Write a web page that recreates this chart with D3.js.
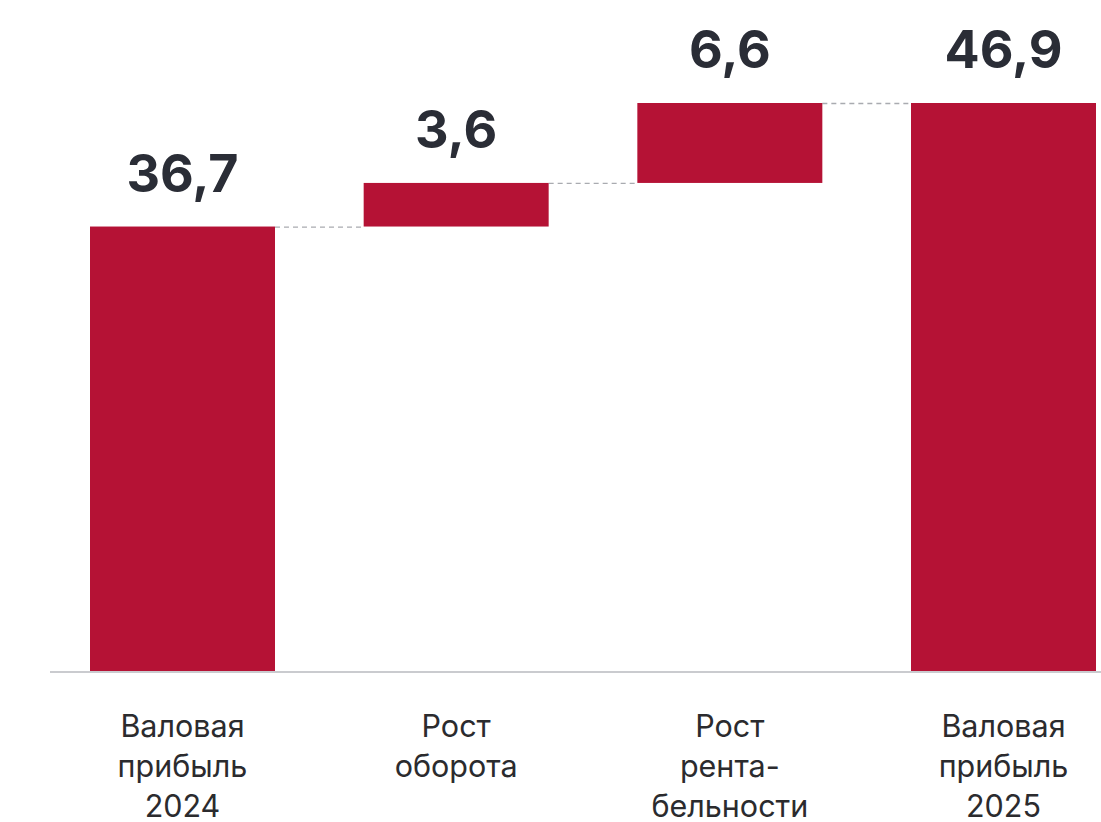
<!DOCTYPE html>
<html>
<head>
<meta charset="utf-8">
<script src="https://cdn.jsdelivr.net/npm/d3@7"></script>
<style>
  html, body { margin: 0; padding: 0; background: #fff; }
  svg { display: block; }
</style>
</head>
<body>
<svg id="chart" width="1101" height="822"></svg>
<script>
const categories = [
  ["Валовая", "прибыль", "2024"],
  ["Рост", "оборота"],
  ["Рост", "рента-", "бельности"],
  ["Валовая", "прибыль", "2025"]
];
const values = [36.7, 3.6, 6.6, 46.9];
const kinds = ["total", "delta", "delta", "total"];
const valueLabels = ["36,7", "3,6", "6,6", "46,9"];

let run = 0;
const bars = values.map((v, i) => {
  let y0, y1;
  if (kinds[i] === "total") { y0 = 0; y1 = v; run = v; }
  else { y0 = run; y1 = run + v; run = y1; }
  return { i, y0, y1, label: valueLabels[i], cat: categories[i] };
});

const svg = d3.select("#chart");
const x = d3.scaleBand().domain(d3.range(values.length)).range([90, 1096]).paddingInner(0.324).paddingOuter(0);
const y = d3.scaleLinear().domain([0, 46.9]).range([671, 103]);

const red = "#b51235";

for (let k = 0; k < bars.length - 1; k++) {
  const level = bars[k].y1;
  svg.append("line")
    .attr("x1", x(k) + x.bandwidth()).attr("x2", x(k + 1))
    .attr("y1", y(level) + 0.5).attr("y2", y(level) + 0.5)
    .attr("stroke", "#a9abb0").attr("stroke-width", 1.3)
    .attr("stroke-dasharray", "5,4");
}

svg.selectAll("rect.bar").data(bars).join("rect")
  .attr("class", "bar")
  .attr("x", d => x(d.i))
  .attr("width", x.bandwidth())
  .attr("y", d => y(d.y1))
  .attr("height", d => y(d.y0) - y(d.y1))
  .attr("fill", red);

svg.append("line")
  .attr("x1", 50).attr("x2", 1101)
  .attr("y1", y(0) + 1).attr("y2", y(0) + 1)
  .attr("stroke", "#b9babf").attr("stroke-width", 1.6);

svg.selectAll("text.val").data(bars).join("text")
  .attr("class", "val")
  .attr("x", d => x(d.i) + x.bandwidth() / 2)
  .attr("y", d => y(d.y1) - 35)
  .attr("text-anchor", "middle")
  .attr("font-family", "Inter, Roboto, sans-serif")
  .attr("font-weight", 700)
  .attr("font-size", 52)
  .attr("letter-spacing", 0)
  .attr("fill", "#2a2d36")
  .text(d => d.label);

const cat = svg.selectAll("text.cat").data(bars).join("text")
  .attr("class", "cat")
  .attr("text-anchor", "middle")
  .attr("font-family", "Inter, Roboto, sans-serif")
  .attr("font-size", 30.5)
  .attr("fill", "#2b2b2e");
cat.each(function(d) {
  const t = d3.select(this);
  d.cat.forEach((line, j) => {
    t.append("tspan")
      .attr("x", x(d.i) + x.bandwidth() / 2)
      .attr("y", 737 + j * 40)
      .text(line);
  });
});
</script>
</body>
</html>
